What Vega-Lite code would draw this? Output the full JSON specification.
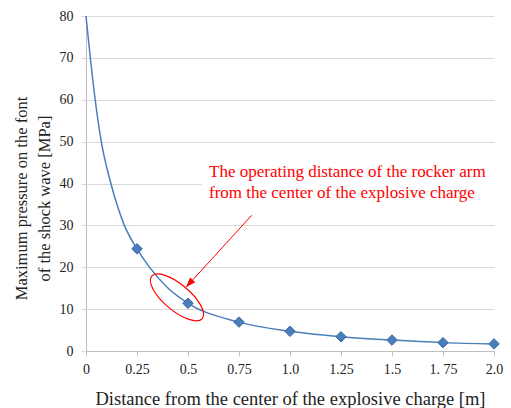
{
  "$schema": "https://vega.github.io/schema/vega-lite/v6.json",
  "width": 408,
  "height": 335,
  "autosize": {"type": "none"},
  "padding": {"left": 86, "top": 16, "right": 17, "bottom": 57},
  "background": "white",
  "config": {"view": {"stroke": null}, "font": "Liberation Serif"},
  "datasets": {
    "curve": [
      {"x": 0, "y": 80},
      {"x": 0.02, "y": 70.5},
      {"x": 0.045, "y": 60},
      {"x": 0.075, "y": 50},
      {"x": 0.122, "y": 40},
      {"x": 0.155, "y": 34.5},
      {"x": 0.188, "y": 30},
      {"x": 0.25, "y": 24.4},
      {"x": 0.31, "y": 20.1},
      {"x": 0.4, "y": 15.1},
      {"x": 0.5, "y": 11.4},
      {"x": 0.75, "y": 6.9},
      {"x": 1.0, "y": 4.7},
      {"x": 1.25, "y": 3.4},
      {"x": 1.5, "y": 2.6},
      {"x": 1.75, "y": 2.0},
      {"x": 2.0, "y": 1.7}
    ],
    "markers": [
      {"x": 0.25, "y": 24.4},
      {"x": 0.5, "y": 11.4},
      {"x": 0.75, "y": 6.9},
      {"x": 1.0, "y": 4.7},
      {"x": 1.25, "y": 3.4},
      {"x": 1.5, "y": 2.6},
      {"x": 1.75, "y": 2.0},
      {"x": 2.0, "y": 1.7}
    ],
    "mask": [{"x": 0.567, "x2": 2.02, "y": 38.3, "y2": 41.7}],
    "ellipse": [{"x": 0.446, "y": 12.8}],
    "arrow": [{"x": 0.812, "y": 32.4, "x2": 0.49, "y2": 15.2}],
    "labels": [
      {"x": 0.603, "y": 42.7, "text": "The operating distance of the rocker arm"},
      {"x": 0.603, "y": 37.7, "text": "from the center of the explosive charge"}
    ]
  },
  "layer": [
    {
      "data": {"name": "curve"},
      "mark": {"type": "line", "interpolate": "monotone", "color": "#4a7ebb", "strokeWidth": 1.5},
      "encoding": {
        "x": {
          "field": "x", "type": "quantitative",
          "scale": {"domain": [0, 2], "nice": false, "zero": true},
          "axis": {
            "values": [0, 0.25, 0.5, 0.75, 1, 1.25, 1.5, 1.75, 2],
            "labelExpr": "['0','0.25','0.5','0.75','1.0','1.25','1.5','1. 75','2.0'][round(datum.value*4)]",
            "grid": false,
            "ticks": true, "tickSize": 5, "tickColor": "#bfbfbf",
            "domainColor": "#bfbfbf",
            "labelFlush": false,
            "labelPadding": 6,
            "labelFont": "Liberation Serif", "labelFontSize": 14, "labelColor": "#222222",
            "title": "Distance from the center of the explosive charge [m]",
            "titleFont": "Liberation Serif", "titleFontSize": 18.5, "titleFontWeight": "normal",
            "titleColor": "#222222",
            "titleX": 204, "titleY": 47, "titleAlign": "center", "titleBaseline": "middle"
          }
        },
        "y": {
          "field": "y", "type": "quantitative",
          "scale": {"domain": [0, 80], "nice": false},
          "axis": {
            "values": [0, 10, 20, 30, 40, 50, 60, 70, 80],
            "grid": true, "gridColor": "#d9d9d9",
            "ticks": true, "tickSize": 5, "tickColor": "#d9d9d9",
            "domainColor": "#bfbfbf",
            "labelPadding": 8,
            "labelFont": "Liberation Serif", "labelFontSize": 14, "labelColor": "#222222",
            "title": ["Maximum pressure on the font", "of the shock wave [MPa]"],
            "titleFont": "Liberation Serif", "titleFontSize": 16.5, "titleFontWeight": "normal",
            "titleColor": "#222222",
            "titleAngle": -90,
            "titleX": -64.5, "titleY": 182, "titleAlign": "center", "titleBaseline": "middle",
            "titleLineHeight": 23
          }
        }
      }
    },
    {
      "data": {"name": "markers"},
      "mark": {"type": "point", "shape": "diamond", "filled": true, "size": 110, "fill": "#4a7ebb", "stroke": "#3a67a8", "strokeWidth": 1, "opacity": 1},
      "encoding": {
        "x": {"field": "x", "type": "quantitative"},
        "y": {"field": "y", "type": "quantitative"}
      }
    },
    {
      "data": {"name": "mask"},
      "mark": {"type": "rect", "fill": "white"},
      "encoding": {
        "x": {"field": "x", "type": "quantitative"},
        "x2": {"field": "x2"},
        "y": {"field": "y", "type": "quantitative"},
        "y2": {"field": "y2"}
      }
    },
    {
      "data": {"name": "ellipse"},
      "mark": {
        "type": "point",
        "shape": "M -1 0 C -1 -0.2176 -0.5523 -0.394 0 -0.394 C 0.5523 -0.394 1 -0.2176 1 0 C 1 0.2176 0.5523 0.394 0 0.394 C -0.5523 0.394 -1 0.2176 -1 0 Z",
        "size": 4356, "angle": 40, "filled": false, "stroke": "#ff0000", "strokeWidth": 1.2, "opacity": 1
      },
      "encoding": {
        "x": {"field": "x", "type": "quantitative"},
        "y": {"field": "y", "type": "quantitative"}
      }
    },
    {
      "data": {"name": "arrow"},
      "mark": {"type": "rule", "color": "#ff0000", "strokeWidth": 1},
      "encoding": {
        "x": {"field": "x", "type": "quantitative"},
        "y": {"field": "y", "type": "quantitative"},
        "x2": {"field": "x2"},
        "y2": {"field": "y2"}
      }
    },
    {
      "data": {"name": "arrow"},
      "mark": {
        "type": "point",
        "shape": "M 0 0 L -0.35 -1 L 0.35 -1 Z",
        "size": 400, "angle": 42, "filled": true, "fill": "#ff0000", "strokeWidth": 0, "opacity": 1
      },
      "encoding": {
        "x": {"field": "x2", "type": "quantitative"},
        "y": {"field": "y2", "type": "quantitative"}
      }
    },
    {
      "data": {"name": "labels"},
      "mark": {"type": "text", "align": "left", "baseline": "middle", "font": "Liberation Serif", "fontSize": 17, "color": "#ff0000"},
      "encoding": {
        "x": {"field": "x", "type": "quantitative"},
        "y": {"field": "y", "type": "quantitative"},
        "text": {"field": "text"}
      }
    }
  ]
}
